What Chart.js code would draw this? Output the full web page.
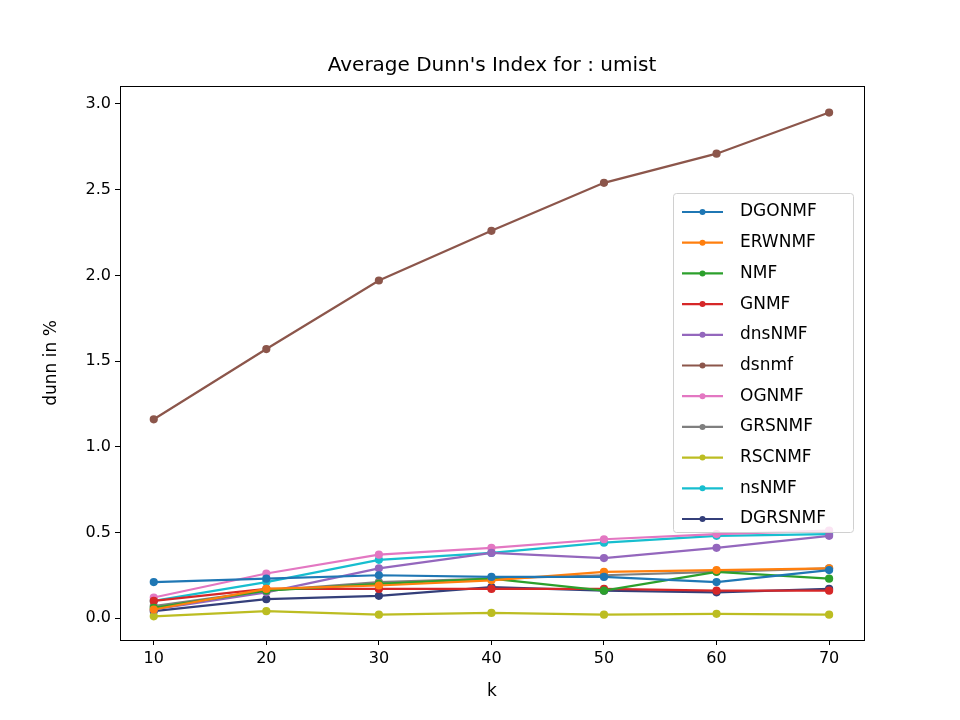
<!DOCTYPE html>
<html><head><meta charset="utf-8">
<script src="https://cdn.jsdelivr.net/npm/chart.js@4/dist/chart.umd.min.js"></script>
<style>body{margin:0;background:#fff}#wrap{width:960px;height:720px}</style>
</head><body><div id="wrap"><canvas id="c" width="960" height="720"></canvas></div>
<script>
const kValues = [10, 20, 30, 40, 50, 60, 70];
const names = ['DGONMF','ERWNMF','NMF','GNMF','dnsNMF','dsnmf','OGNMF','GRSNMF','RSCNMF','nsNMF','DGRSNMF'];
const colors = ['#1f77b4','#ff7f0e','#2ca02c','#d62728','#9467bd','#8c564b','#e377c2','#7f7f7f','#bcbd22','#17becf','#343f7a'];
const DGONMF  = [0.21, 0.23, 0.25, 0.24, 0.24, 0.21, 0.28];
const ERWNMF  = [0.05, 0.17, 0.19, 0.22, 0.27, 0.28, 0.29];
const NMF     = [0.06, 0.16, 0.20, 0.23, 0.16, 0.27, 0.23];
const GNMF    = [0.10, 0.17, 0.17, 0.17, 0.17, 0.16, 0.16];
const dnsNMF  = [0.05, 0.15, 0.29, 0.38, 0.35, 0.41, 0.48];
const dsnmf   = [1.16, 1.57, 1.97, 2.26, 2.54, 2.71, 2.95];
const OGNMF   = [0.12, 0.26, 0.37, 0.41, 0.46, 0.49, 0.51];
const GRSNMF  = [0.07, 0.16, 0.21, 0.23, 0.25, 0.27, 0.29];
const RSCNMF  = [0.01, 0.04, 0.02, 0.03, 0.02, 0.025, 0.02];
const nsNMF   = [0.10, 0.21, 0.34, 0.38, 0.44, 0.48, 0.49];
const DGRSNMF = [0.04, 0.11, 0.13, 0.18, 0.16, 0.15, 0.17];
const series = [DGONMF, ERWNMF, NMF, GNMF, dnsNMF, dsnmf, OGNMF, GRSNMF, RSCNMF, nsNMF, DGRSNMF];

Chart.defaults.font.family = 'DejaVu Sans';
Chart.defaults.color = '#000';

const datasets = series.map((s, i) => ({
  label: names[i],
  data: s.map((v, j) => ({x: kValues[j], y: v})),
  borderColor: colors[i], backgroundColor: colors[i],
  borderWidth: 2.2, pointRadius: 3, pointHoverRadius: 3
}));

// legend, frame and titles drawn matplotlib style
const decor = {
  id: 'decor',
  afterDraw(chart) {
    const ctx = chart.ctx, a = chart.chartArea;
    ctx.save();
    ctx.strokeStyle = '#000'; ctx.lineWidth = 1;
    ctx.strokeRect(a.left + 0.5, a.top + 0.5, a.right - a.left, a.bottom - a.top);
    ctx.fillStyle = '#000';
    ctx.textAlign = 'center'; ctx.textBaseline = 'middle';
    ctx.font = '20px DejaVu Sans';
    ctx.fillText("Average Dunn's Index for : umist", (a.left + a.right) / 2, 66);
    ctx.font = '17px DejaVu Sans';
    ctx.fillText('k', (a.left + a.right) / 2, 692);
    ctx.save(); ctx.translate(52, (a.top + a.bottom) / 2); ctx.rotate(-Math.PI / 2);
    ctx.fillText('dunn in %', 0, 0); ctx.restore();

    const x0 = 673, y0 = 193, w = 180, h = 339, rowH = 30.7;
    ctx.fillStyle = 'rgba(255,255,255,0.8)';
    ctx.strokeStyle = '#d0d0d0';
    ctx.beginPath();
    ctx.roundRect(x0 + 0.5, y0 + 0.5, w, h, 3);
    ctx.fill(); ctx.stroke();
    ctx.font = '17px DejaVu Sans';
    ctx.textAlign = 'left';
    chart.data.datasets.forEach((d, i) => {
      const y = y0 + 19 + i * rowH;
      ctx.strokeStyle = d.borderColor; ctx.lineWidth = 2.2;
      ctx.beginPath(); ctx.moveTo(x0 + 9, y); ctx.lineTo(x0 + 50, y); ctx.stroke();
      ctx.fillStyle = d.borderColor;
      ctx.beginPath(); ctx.arc(x0 + 29.5, y, 3, 0, Math.PI * 2); ctx.fill();
      ctx.fillStyle = '#000';
      ctx.fillText(d.label, x0 + 67, y);
    });
    ctx.restore();
  }
};

new Chart(document.getElementById('c'), {
  type: 'line',
  data: { datasets },
  plugins: [decor],
  options: {
    responsive: false, animation: false,
    layout: { padding: { left: 0, right: 96, top: 86, bottom: 0 } },
    plugins: { legend: { display: false }, tooltip: { enabled: false } },
    scales: {
      x: {
        type: 'linear', min: 7.0, max: 73.1,
        afterBuildTicks: ax => { ax.ticks = kValues.map(v => ({value: v})); },
        grid: { display: true, drawOnChartArea: false, tickLength: 5, color: '#000' },
        border: { display: false },
        ticks: { font: { size: 16 }, padding: 4 },
        afterFit: ax => { ax.height = 80; }
      },
      y: {
        min: -0.128, max: 3.105,
        afterBuildTicks: ax => { ax.ticks = [0, 0.5, 1, 1.5, 2, 2.5, 3].map(v => ({value: v})); },
        grid: { display: true, drawOnChartArea: false, tickLength: 5, color: '#000' },
        border: { display: false },
        ticks: { font: { size: 16 }, padding: 4, callback: v => v.toFixed(1) },
        afterFit: ax => { ax.width = 120; }
      }
    }
  }
});
</script></body></html>
